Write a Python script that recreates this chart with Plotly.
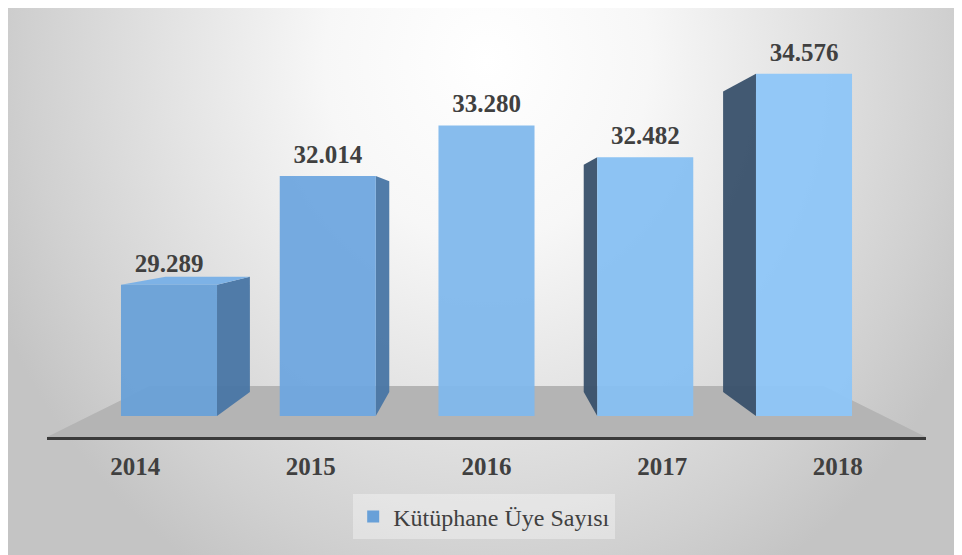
import plotly.graph_objects as go

# data
years = ['2014', '2015', '2016', '2017', '2018']
members = [29289, 32014, 33280, 32482, 34576]
series_name = 'Kütüphane Üye Sayısı'

# colours (left bars darker, right bars lighter like the original gradient)
front_colors = ['#68A0D8', '#6DA6DF', '#7FB8EC', '#86BFF2', '#8DC6F8']
side_light = '#4A77A6'   # sides facing right
side_dark = '#3A526C'    # sides facing left
top_color = '#7DB2E6'
floor_color = '#B4B4B4'
text_color = '#404040'
serif = 'Liberation Serif'

# axis set-up (value axis starts at 26.000 like the excel chart)
BASE = 26000
y_lo, y_hi = 25474, 36223
x_lo, x_hi = -0.7685, 4.7685
bar_w = 0.605

positions = list(range(len(years)))
vx = (len(years) - 1) / 2       # vanishing point, x
vy = 30936                      # vanishing point, y (in value units)
side_depth = 0.122
floor_depth = 0.234
bar_depth = (BASE - y_lo) / (vy - y_lo)


def project(x, y, t):
    # move a point of the front plane towards the vanishing point
    return x + t * (vx - x), y + t * (vy - y)


fig = go.Figure()

# background with radial gradient (own full size axes, pixel units)
bg_x = [-61, 1019, 1019, -61, -61]
bg_y = [-548, -548, 652, 652, -548]
fig.add_trace(go.Scatter(
    x=bg_x, y=bg_y, mode='lines', fill='toself', line=dict(width=0),
    fillgradient=dict(type='radial', colorscale=[
        [0, '#FFFFFF'], [0.3, '#F7F7F7'], [0.6, '#E2E2E2'],
        [0.85, '#D0D0D0'], [1, '#C4C4C4']]),
    hoverinfo='skip', showlegend=False, xaxis='x', yaxis='y'))

# floor
fl = [(x_lo, y_lo), (x_hi, y_lo), project(x_hi, y_lo, floor_depth), project(x_lo, y_lo, floor_depth)]
fig.add_trace(go.Scatter(
    x=[p[0] for p in fl] + [fl[0][0]], y=[p[1] for p in fl] + [fl[0][1]],
    mode='lines', fill='toself', fillcolor=floor_color, line=dict(width=0),
    hoverinfo='skip', showlegend=False, xaxis='x2', yaxis='y2'))

# side and top faces of every bar
for pos, val in zip(positions, members):
    if pos != vx:
        edge = pos + bar_w / 2 if pos < vx else pos - bar_w / 2
        bt = project(edge, val, side_depth)
        bb = project(edge, BASE, side_depth)
        fig.add_trace(go.Scatter(
            x=[edge, edge, bt[0], bb[0], edge], y=[BASE, val, bt[1], bb[1], BASE],
            mode='lines', fill='toself', line=dict(width=0),
            fillcolor=side_light if pos < vx else side_dark, opacity=0.96,
            hoverinfo='skip', showlegend=False, xaxis='x2', yaxis='y2'))
    if val < vy:
        l, r = pos - bar_w / 2, pos + bar_w / 2
        bl = project(l, val, side_depth)
        br = project(r, val, side_depth)
        fig.add_trace(go.Scatter(
            x=[l, r, br[0], bl[0], l], y=[val, val, br[1], bl[1], val],
            mode='lines', fill='toself', line=dict(width=0), fillcolor=top_color,
            hoverinfo='skip', showlegend=False, xaxis='x2', yaxis='y2'))

# front faces
fig.add_trace(go.Bar(
    x=positions, y=[v - BASE for v in members], base=BASE, width=bar_w,
    name=series_name, marker=dict(color=front_colors, opacity=0.94, line=dict(width=0)),
    hoverinfo='skip', xaxis='x3', yaxis='y3'))

# value labels
fig.add_trace(go.Scatter(
    x=positions, y=[v + 170 for v in members], customdata=members, mode='text',
    texttemplate='%{customdata:,}', textposition='top center',
    textfont=dict(family=serif, size=25, color=text_color, weight='bold'),
    hoverinfo='skip', showlegend=False, xaxis='x3', yaxis='y3'))

tick_pos = [(p - vx * bar_depth) / (1 - bar_depth) for p in positions]

fig.update_layout(
    width=962, height=555,
    margin=dict(l=0, r=0, t=0, b=0),
    paper_bgcolor='white', plot_bgcolor='rgba(0,0,0,0)',
    separators=',.',
    font=dict(family=serif),
    showlegend=True,
    legend=dict(x=0.495, y=0.083, xanchor='center', yanchor='middle',
                bgcolor='rgba(255,255,255,0.35)',
                font=dict(family=serif, size=24, color=text_color)),
    xaxis=dict(domain=[0, 1], range=[0, 962], visible=False, fixedrange=True),
    yaxis=dict(domain=[0, 1], range=[555, 0], visible=False, fixedrange=True),
    xaxis2=dict(domain=[39 / 962, 918 / 962], range=[x_lo, x_hi], anchor='y2',
                showgrid=False, zeroline=False, showline=True, linewidth=3,
                linecolor='#3A3A3A', tickvals=tick_pos, ticktext=years, ticks='',
                ticklabelstandoff=5,
                tickfont=dict(family=serif, size=25, color=text_color, weight='bold')),
    yaxis2=dict(domain=[1 - 429 / 555, 1], range=[y_lo, y_hi], anchor='x2', visible=False),
    xaxis3=dict(overlaying='x2', range=[x_lo, x_hi], visible=False),
    yaxis3=dict(overlaying='y2', range=[y_lo, y_hi], visible=False),
)

fig.write_html('out.html')
